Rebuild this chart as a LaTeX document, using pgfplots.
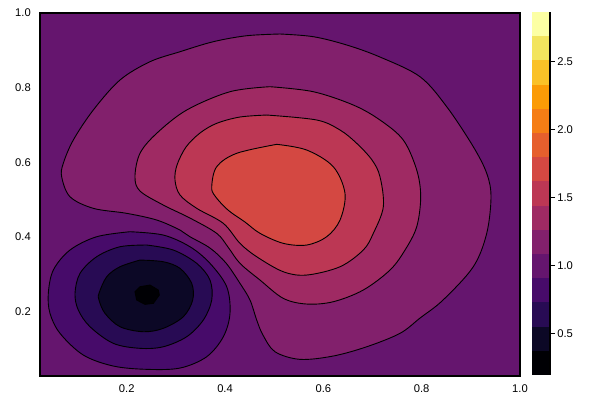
\documentclass[border=0pt]{standalone}
\usepackage{pgfplots}
\pgfplotsset{compat=1.18}
\usepackage{fontspec}
\setmainfont{Liberation Sans}
\definecolor{c1}{HTML}{000004}
\definecolor{c2}{HTML}{0C0826}
\definecolor{c3}{HTML}{280B54}
\definecolor{c4}{HTML}{470B6A}
\definecolor{c5}{HTML}{65156E}
\definecolor{c6}{HTML}{82206C}
\definecolor{c7}{HTML}{9F2A63}
\definecolor{c8}{HTML}{BC3754}
\definecolor{c9}{HTML}{D44842}
\definecolor{c10}{HTML}{E65F2D}
\definecolor{c11}{HTML}{F57D15}
\definecolor{c12}{HTML}{FB9B06}
\definecolor{c13}{HTML}{FAC127}
\definecolor{c14}{HTML}{F2E45E}
\definecolor{c15}{HTML}{FCFFA4}
\begin{document}
\begin{tikzpicture}
\path[use as bounding box] (0,0) rectangle (300pt,200pt);
\begin{axis}[
  at={(20pt,12pt)}, anchor=south west,
  scale only axis, width=240pt, height=181.65pt,
  xmin=0.0236, xmax=1, ymin=0.028, ymax=1,
  xtick={0.2,0.4,0.6,0.8,1.0}, ytick={0.2,0.4,0.6,0.8,1.0},
  /pgf/number format/.cd, fixed, fixed zerofill, precision=1, assume math mode=true,
  /pgfplots/.cd,
  tick style={draw=none},
  axis background/.style={fill=c5},
  axis line style={line width=0.8pt},
  axis on top,
  ticklabel style={font=\fontsize{5.6}{6}\selectfont},
  xticklabel style={yshift=-1pt},
  yticklabel style={xshift=-1.1pt},
]
\pgfplotsset{contour/.style={draw=black, line width=0.45pt, smooth, tension=0.55}}
\addplot[contour, fill=c6] coordinates {(0.5118,0.9430) (0.5796,0.9358) (0.6475,0.9136) (0.7152,0.8814) (0.7966,0.8287) (0.8509,0.7485) (0.9050,0.6414) (0.9323,0.5702) (0.9410,0.5076) (0.9323,0.4097) (0.9050,0.3203) (0.8434,0.2312) (0.7966,0.1830) (0.7559,0.1421) (0.6882,0.1062) (0.6196,0.0813) (0.5525,0.0725) (0.5016,0.0929) (0.4772,0.1375) (0.4644,0.1777) (0.4508,0.2312) (0.4304,0.2759) (0.4020,0.3302) (0.3694,0.3703) (0.3287,0.4006) (0.3084,0.4185) (0.2610,0.4453) (0.2000,0.4632) (0.1320,0.4766) (0.0846,0.5076) (0.0677,0.5611) (0.0710,0.5970) (0.0913,0.6593) (0.1320,0.7396) (0.1863,0.8199) (0.2474,0.8689) (0.3084,0.8956) (0.3761,0.9224) (0.4441,0.9384) (0.5118,0.9430)};
\addplot[contour, fill=c7] coordinates {(0.4915,0.8020) (0.5796,0.7886) (0.6609,0.7530) (0.7152,0.7129) (0.7626,0.6593) (0.7899,0.5791) (0.7980,0.5076) (0.7899,0.4273) (0.7661,0.3650) (0.7356,0.3115) (0.6812,0.2580) (0.6202,0.2267) (0.5661,0.2205) (0.5185,0.2357) (0.4711,0.2847) (0.4304,0.3294) (0.4060,0.3730) (0.3830,0.4097) (0.3287,0.4506) (0.2744,0.4854) (0.2270,0.5229) (0.2168,0.5611) (0.2270,0.6238) (0.2610,0.6773) (0.3220,0.7396) (0.4101,0.7886) (0.4915,0.8020)};
\addplot[contour, fill=c8] coordinates {(0.4848,0.7262) (0.5865,0.7129) (0.6339,0.6861) (0.6678,0.6505) (0.6990,0.6058) (0.7152,0.5611) (0.7220,0.4809) (0.7016,0.4097) (0.6812,0.3650) (0.6339,0.3203) (0.5661,0.2981) (0.5185,0.3069) (0.4644,0.3471) (0.4304,0.3829) (0.3965,0.4364) (0.3424,0.4766) (0.3084,0.5122) (0.2982,0.5523) (0.3023,0.5924) (0.3206,0.6406) (0.3491,0.6781) (0.3830,0.7040) (0.4304,0.7209) (0.4848,0.7262)};
\addplot[contour, fill=c9] coordinates {(0.5051,0.6478) (0.5661,0.6326) (0.6202,0.5879) (0.6440,0.5167) (0.6339,0.4453) (0.6068,0.4006) (0.5661,0.3784) (0.5185,0.3829) (0.4711,0.4097) (0.4406,0.4399) (0.4060,0.4720) (0.3796,0.5095) (0.3729,0.5344) (0.3830,0.5879) (0.4237,0.6238) (0.5051,0.6478)};
\addplot[contour, fill=c4] coordinates {(0.2067,0.4140) (0.2744,0.4051) (0.3287,0.3738) (0.3694,0.3294) (0.4034,0.2668) (0.4101,0.1956) (0.3965,0.1330) (0.3627,0.0795) (0.3084,0.0492) (0.2406,0.0458) (0.1727,0.0546) (0.1117,0.0840) (0.0643,0.1421) (0.0439,0.1956) (0.0405,0.2491) (0.0507,0.3115) (0.0846,0.3650) (0.1389,0.4006) (0.2067,0.4140)};
\addplot[contour, fill=c3] coordinates {(0.2406,0.3784) (0.2948,0.3650) (0.3424,0.3294) (0.3694,0.2847) (0.3729,0.2312) (0.3558,0.1777) (0.3220,0.1330) (0.2744,0.1062) (0.2270,0.1020) (0.1727,0.1153) (0.1253,0.1598) (0.1015,0.2044) (0.0948,0.2491) (0.1050,0.3026) (0.1389,0.3471) (0.1863,0.3738) (0.2406,0.3784)};
\addplot[contour, fill=c2] coordinates {(0.2270,0.3382) (0.2744,0.3337) (0.3084,0.3160) (0.3322,0.2759) (0.3342,0.2312) (0.3151,0.1865) (0.2744,0.1555) (0.2337,0.1464) (0.1863,0.1598) (0.1558,0.1956) (0.1436,0.2312) (0.1436,0.2491) (0.1593,0.2935) (0.1863,0.3203) (0.2270,0.3382)};
\addplot[draw=black, line width=0.45pt, fill=c1] coordinates {(0.2168,0.2534) (0.2270,0.2668) (0.2474,0.2713) (0.2642,0.2580) (0.2663,0.2446) (0.2541,0.2224) (0.2372,0.2197) (0.2203,0.2312)} -- cycle;
\end{axis}
\begin{axis}[
  at={(266pt,12.5pt)}, anchor=south west,
  scale only axis, width=9pt, height=181.5pt,
  xmin=0, xmax=1, ymin=0.192, ymax=2.865,
  axis x line=none, axis y line*=right,
  ytick={0.5,1.0,1.5,2.0,2.5},
  /pgf/number format/.cd, fixed, fixed zerofill, precision=1, assume math mode=true,
  /pgfplots/.cd,
  tick align=outside, major tick length=2.5pt,
  tick style={black, line width=0.5pt},
  axis line style={line width=0.6pt},
  axis on top,
  ticklabel style={font=\fontsize{5.6}{6}\selectfont},
  yticklabel style={inner sep=1pt},
]
\addplot[fill=c1, draw=none] coordinates {(0,0.1920) (1,0.1920) (1,0.3702) (0,0.3702)} -- cycle;
\addplot[fill=c2, draw=none] coordinates {(0,0.3702) (1,0.3702) (1,0.5484) (0,0.5484)} -- cycle;
\addplot[fill=c3, draw=none] coordinates {(0,0.5484) (1,0.5484) (1,0.7266) (0,0.7266)} -- cycle;
\addplot[fill=c4, draw=none] coordinates {(0,0.7266) (1,0.7266) (1,0.9048) (0,0.9048)} -- cycle;
\addplot[fill=c5, draw=none] coordinates {(0,0.9048) (1,0.9048) (1,1.0830) (0,1.0830)} -- cycle;
\addplot[fill=c6, draw=none] coordinates {(0,1.0830) (1,1.0830) (1,1.2612) (0,1.2612)} -- cycle;
\addplot[fill=c7, draw=none] coordinates {(0,1.2612) (1,1.2612) (1,1.4394) (0,1.4394)} -- cycle;
\addplot[fill=c8, draw=none] coordinates {(0,1.4394) (1,1.4394) (1,1.6176) (0,1.6176)} -- cycle;
\addplot[fill=c9, draw=none] coordinates {(0,1.6176) (1,1.6176) (1,1.7958) (0,1.7958)} -- cycle;
\addplot[fill=c10, draw=none] coordinates {(0,1.7958) (1,1.7958) (1,1.9740) (0,1.9740)} -- cycle;
\addplot[fill=c11, draw=none] coordinates {(0,1.9740) (1,1.9740) (1,2.1522) (0,2.1522)} -- cycle;
\addplot[fill=c12, draw=none] coordinates {(0,2.1522) (1,2.1522) (1,2.3304) (0,2.3304)} -- cycle;
\addplot[fill=c13, draw=none] coordinates {(0,2.3304) (1,2.3304) (1,2.5086) (0,2.5086)} -- cycle;
\addplot[fill=c14, draw=none] coordinates {(0,2.5086) (1,2.5086) (1,2.6868) (0,2.6868)} -- cycle;
\addplot[fill=c15, draw=none] coordinates {(0,2.6868) (1,2.6868) (1,2.8650) (0,2.8650)} -- cycle;
\end{axis}
\end{tikzpicture}
\end{document}
